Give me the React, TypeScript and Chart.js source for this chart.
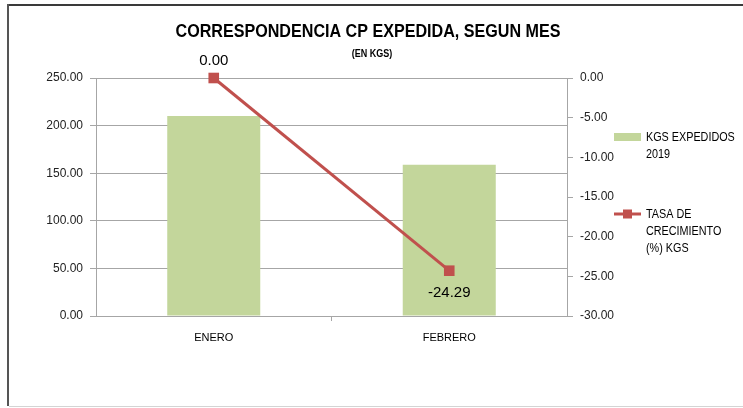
import React, { useEffect, useRef } from "react";
import { Chart, registerables } from "chart.js";

Chart.register(...registerables);

const categories = ["ENERO", "FEBRERO"];
const kgsExpedidos = [210, 159];
const tasaCrecimiento = [0.0, -24.29];
const seriesNames = ["KGS EXPEDIDOS 2019", "TASA DE CRECIMIENTO (%) KGS"];
const titleText = "CORRESPONDENCIA CP EXPEDIDA, SEGUN MES";
const subtitleText = "(EN KGS)";

const FONT = "'Liberation Sans', Arial, sans-serif";
const GREEN = "#C3D69B";
const RED = "#C0504D";
const GRID = "#a6a6a6";

function drawCondensed(ctx: CanvasRenderingContext2D, text: string, x: number, y: number, factor: number) {
  const w = ctx.measureText(text).width;
  ctx.fillText(text, x, y, w * factor);
}

const decorPlugin = {
  id: "decor",
  beforeDraw(chart: any) {
    const ctx = chart.ctx as CanvasRenderingContext2D;
    ctx.save();
    ctx.fillStyle = "#ffffff";
    ctx.fillRect(0, 0, chart.width, chart.height);
    // frame
    ctx.fillStyle = "#3a3a3a";
    ctx.fillRect(8, 4, chart.width - 8, 2);
    ctx.fillStyle = "#555555";
    ctx.fillRect(7, 4, 2, 402);
    ctx.fillStyle = "#d4d4d4";
    ctx.fillRect(9, 406, chart.width - 9, 1);
    ctx.restore();
  },
  afterDraw(chart: any) {
    const ctx = chart.ctx as CanvasRenderingContext2D;
    ctx.save();
    ctx.fillStyle = "#000000";
    ctx.textAlign = "center";
    ctx.textBaseline = "middle";
    // title
    ctx.font = `bold 18px ${FONT}`;
    ctx.fillText(titleText, 368, 32, 385);
    ctx.font = `bold 10px ${FONT}`;
    drawCondensed(ctx, subtitleText, 372, 54, 0.9);

    // data labels for line
    const meta = chart.getDatasetMeta(1);
    ctx.font = `15px ${FONT}`;
    meta.data.forEach((pt: any, i: number) => {
      const v = tasaCrecimiento[i];
      const label = v.toFixed(2);
      if (i === 0) {
        ctx.fillText(label, pt.x, pt.y - 17);
      } else {
        ctx.fillText(label, pt.x, pt.y + 22);
      }
    });

    // legend
    ctx.textAlign = "left";
    ctx.font = `12px ${FONT}`;
    ctx.fillStyle = GREEN;
    ctx.fillRect(614, 133, 27, 8);
    ctx.fillStyle = "#000000";
    const l1 = ["KGS EXPEDIDOS", "2019"];
    l1.forEach((t, i) => drawCondensed(ctx, t, 646, 138 + i * 17, 0.9));

    ctx.strokeStyle = RED;
    ctx.lineWidth = 3;
    ctx.beginPath();
    ctx.moveTo(614, 214);
    ctx.lineTo(641, 214);
    ctx.stroke();
    ctx.fillStyle = RED;
    ctx.fillRect(623, 209.5, 9, 9);
    ctx.fillStyle = "#000000";
    const l2 = ["TASA DE", "CRECIMIENTO", "(%) KGS"];
    l2.forEach((t, i) => drawCondensed(ctx, t, 646, 215 + i * 17, 0.9));
    ctx.restore();
  },
};

export default function App() {
  const ref = useRef<HTMLCanvasElement | null>(null);
  useEffect(() => {
    if (!ref.current) return;
    const chart = new Chart(ref.current, {
      type: "bar",
      data: {
        labels: categories,
        datasets: [
          {
            type: "bar",
            label: seriesNames[0],
            data: kgsExpedidos,
            backgroundColor: GREEN,
            borderWidth: 0,
            categoryPercentage: 1,
            barPercentage: 0.395,
            yAxisID: "y",
            order: 2,
          },
          {
            type: "line",
            label: seriesNames[1],
            data: tasaCrecimiento,
            borderColor: RED,
            backgroundColor: RED,
            borderWidth: 3,
            pointStyle: "rect",
            pointRadius: 7.5,
            pointBackgroundColor: RED,
            pointBorderColor: RED,
            pointBorderWidth: 0,
            tension: 0,
            clip: false,
            yAxisID: "y1",
            order: 1,
          } as any,
        ],
      },
      options: {
        responsive: false,
        animation: false,
        devicePixelRatio: 1,
        layout: { padding: { top: 78, left: 0, right: 0, bottom: 0 } },
        plugins: {
          legend: { display: false },
          title: { display: false },
          tooltip: { enabled: false },
        },
        scales: {
          x: {
            offset: true,
            afterFit: (s: any) => {
              s.height = 92;
            },
            border: { color: GRID, width: 1 },
            grid: {
              offset: true,
              drawOnChartArea: false,
              drawTicks: true,
              tickLength: 5,
              tickColor: (c: any) => (c.index === 1 ? GRID : "rgba(0,0,0,0)"),
              color: GRID,
            },
            ticks: {
              color: "#000",
              font: { family: FONT, size: 11 },
              padding: 10,
            },
          },
          y: {
            position: "left",
            min: 0,
            max: 250,
            afterFit: (s: any) => {
              s.width = 96;
            },
            border: { color: GRID, width: 1 },
            grid: { color: GRID, tickLength: 6, drawTicks: true },
            ticks: {
              stepSize: 50,
              color: "#222",
              padding: 7,
              font: { family: FONT, size: 12 },
              callback: (v: any) => Number(v).toFixed(2),
            },
          },
          y1: {
            position: "right",
            min: -30,
            max: 0,
            afterFit: (s: any) => {
              s.width = 743 - 567;
            },
            border: { color: GRID, width: 1 },
            grid: { drawOnChartArea: false, color: GRID, tickLength: 6, drawTicks: true },
            ticks: {
              stepSize: 5,
              color: "#222",
              padding: 7,
              font: { family: FONT, size: 12 },
              callback: (v: any) => Number(v).toFixed(2),
            },
          },
        },
      } as any,
      plugins: [decorPlugin],
    });
    return () => chart.destroy();
  }, []);
  return (
    <canvas
      ref={ref}
      width={743}
      height={408}
      style={{ position: "fixed", left: 0, top: 0, width: 743, height: 408, display: "block" }}
    />
  );
}
